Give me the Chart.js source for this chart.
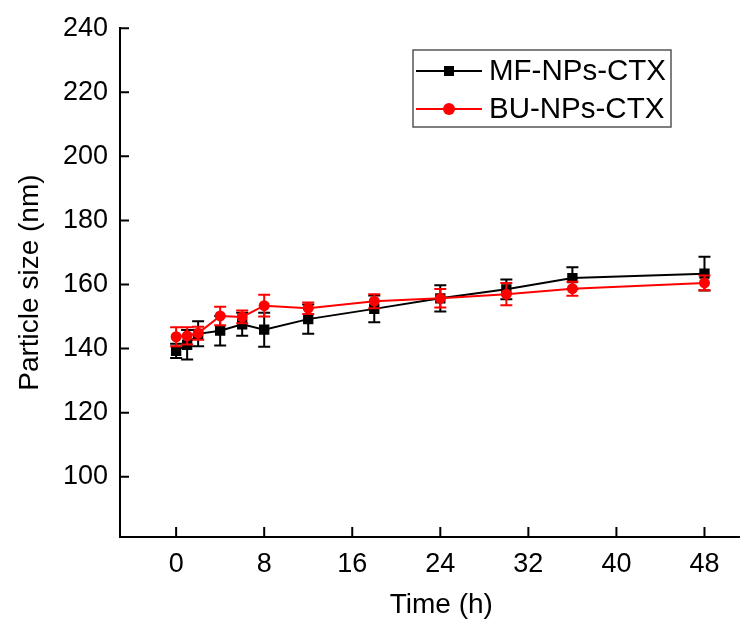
<!DOCTYPE html>
<html>
<head>
<meta charset="utf-8">
<script src="https://cdn.jsdelivr.net/npm/chart.js@4.4.0/dist/chart.umd.min.js"></script>
<style>
html, body { margin: 0; padding: 0; background: #fff; }
#chartContainer { width: 747px; height: 621px; }
</style>
</head>
<body>
<div id="chartContainer"><canvas id="myChart" width="747" height="621"></canvas></div>
<script>
// time points (h)
var times = [0, 1, 2, 4, 6, 8, 12, 18, 24, 30, 36, 48];

// MF-NPs-CTX
var mfSize = [139.3, 141.2, 144.6, 145.6, 147.6, 145.9, 149.2, 152.4, 155.7, 158.5, 162.0, 163.4];
var mfErr  = [2.2, 4.6, 3.9, 4.6, 3.6, 5.3, 4.6, 4.2, 4.1, 3.1, 3.4, 5.3];

// BU-NPs-CTX
var buSize = [143.7, 144.0, 144.8, 150.2, 149.9, 153.4, 152.6, 154.8, 155.7, 157.0, 158.7, 160.5];
var buErr  = [3.0, 2.7, 2.0, 2.9, 2.0, 3.4, 1.8, 2.2, 2.9, 3.5, 2.2, 2.3];

var seriesNames = ["MF-NPs-CTX", "BU-NPs-CTX"];
var xTicks = [0, 8, 16, 24, 32, 40, 48];
var yTicks = [100, 120, 140, 160, 180, 200, 220, 240];
var xTitle = "Time (h)";
var yTitle = "Particle size (nm)";

var fontFamily = "'Liberation Sans', Arial, sans-serif";
var errArrays = [mfErr, buErr];

function toPoints(values) {
  return times.map(function (t, i) { return { x: t, y: values[i] }; });
}

// error bars, drawn after each dataset through the y scale
var errorBars = {
  id: "errorBars",
  afterDatasetDraw: function (chart, args) {
    var errs = errArrays[args.index];
    var ds = chart.data.datasets[args.index];
    var yScale = chart.scales.y;
    var ctx = chart.ctx;
    ctx.save();
    ctx.strokeStyle = ds.borderColor;
    ctx.lineWidth = 2;
    args.meta.data.forEach(function (pt, i) {
      var v = ds.data[i].y;
      var top = yScale.getPixelForValue(v + errs[i]);
      var bot = yScale.getPixelForValue(v - errs[i]);
      ctx.beginPath();
      ctx.moveTo(pt.x, top); ctx.lineTo(pt.x, bot);
      ctx.moveTo(pt.x - 6, top); ctx.lineTo(pt.x + 6, top);
      ctx.moveTo(pt.x - 6, bot); ctx.lineTo(pt.x + 6, bot);
      ctx.stroke();
    });
    ctx.restore();
  }
};

// inner tick marks, x title and legend box
var extras = {
  id: "extras",
  afterDraw: function (chart) {
    var ctx = chart.ctx;
    var area = chart.chartArea;
    var xs = chart.scales.x, ys = chart.scales.y;
    ctx.save();
    ctx.strokeStyle = "#000";
    ctx.lineWidth = 2;
    ctx.beginPath();
    xTicks.forEach(function (v) {
      var px = xs.getPixelForValue(v);
      ctx.moveTo(px, area.bottom); ctx.lineTo(px, area.bottom - 10);
    });
    yTicks.forEach(function (v) {
      var py = ys.getPixelForValue(v);
      ctx.moveTo(area.left, py); ctx.lineTo(area.left + 9, py);
    });
    ctx.stroke();

    // x axis title
    ctx.fillStyle = "#000";
    ctx.font = "28px " + fontFamily;
    ctx.textAlign = "center";
    ctx.textBaseline = "middle";
    ctx.fillText(xTitle, xs.getPixelForValue(24) + 1, 605);

    // legend
    var lx = 413, ly = 50, lw = 258, lh = 77;
    ctx.fillStyle = "#fff";
    ctx.fillRect(lx, ly, lw, lh);
    ctx.strokeStyle = "#555";
    ctx.lineWidth = 1.5;
    ctx.strokeRect(lx, ly, lw, lh);
    ctx.font = "29.5px " + fontFamily;
    ctx.textBaseline = "middle";
    ctx.textAlign = "left";
    chart.data.datasets.forEach(function (ds, i) {
      var cy = ly + 21 + i * 38;
      ctx.strokeStyle = ds.borderColor;
      ctx.lineWidth = 2;
      ctx.beginPath();
      ctx.moveTo(lx + 3, cy); ctx.lineTo(lx + 69, cy);
      ctx.stroke();
      ctx.fillStyle = ds.borderColor;
      if (ds.pointStyle === "rect") {
        ctx.fillRect(lx + 36 - 5, cy - 5, 10, 10);
      } else {
        ctx.beginPath();
        ctx.arc(lx + 36, cy, 6, 0, Math.PI * 2);
        ctx.fill();
      }
      ctx.fillStyle = "#000";
      ctx.fillText(ds.label, lx + 76, cy + 1);
    });
    ctx.restore();
  }
};

var ctx = document.getElementById("myChart").getContext("2d");
var chart = new Chart(ctx, {
  type: "line",
  data: {
    datasets: [
      {
        label: seriesNames[0],
        data: toPoints(mfSize),
        borderColor: "#000000",
        backgroundColor: "#000000",
        borderWidth: 2,
        pointStyle: "rect",
        pointRadius: 7.3,
        pointBorderWidth: 0,
        order: 1
      },
      {
        label: seriesNames[1],
        data: toPoints(buSize),
        borderColor: "#ff0000",
        backgroundColor: "#ff0000",
        borderWidth: 2,
        pointStyle: "circle",
        pointRadius: 5.5,
        pointBorderWidth: 0,
        order: 0
      }
    ]
  },
  options: {
    responsive: false,
    animation: false,
    devicePixelRatio: 1,
    layout: { padding: { top: 26, right: 2, left: 0, bottom: 0 } },
    plugins: {
      legend: { display: false },
      tooltip: { enabled: false }
    },
    scales: {
      x: {
        type: "linear",
        min: -5.1,
        max: 51.2,
        grid: { display: false, drawTicks: false },
        border: { display: true, color: "#000", width: 2 },
        afterBuildTicks: function (scale) {
          scale.ticks = xTicks.map(function (v) { return { value: v }; });
        },
        afterFit: function (scale) {
          scale.height = 84;
          scale.paddingLeft = 0;
          scale.paddingRight = 0;
        },
        ticks: {
          color: "#000",
          padding: 11,
          maxRotation: 0,
          font: { family: fontFamily, size: 27 }
        },
        title: { display: false }
      },
      y: {
        type: "linear",
        min: 81.2,
        max: 240,
        grid: { display: false, drawTicks: false },
        border: { display: true, color: "#000", width: 2 },
        afterBuildTicks: function (scale) {
          scale.ticks = yTicks.map(function (v) { return { value: v }; });
        },
        afterFit: function (scale) { scale.width = 120; },
        ticks: {
          color: "#000",
          padding: 12,
          font: { family: fontFamily, size: 27 }
        },
        title: {
          display: true,
          text: yTitle,
          color: "#000",
          padding: { top: 13, bottom: 0 },
          font: { family: fontFamily, size: 28 }
        }
      }
    }
  },
  plugins: [errorBars, extras]
});
</script>
</body>
</html>
